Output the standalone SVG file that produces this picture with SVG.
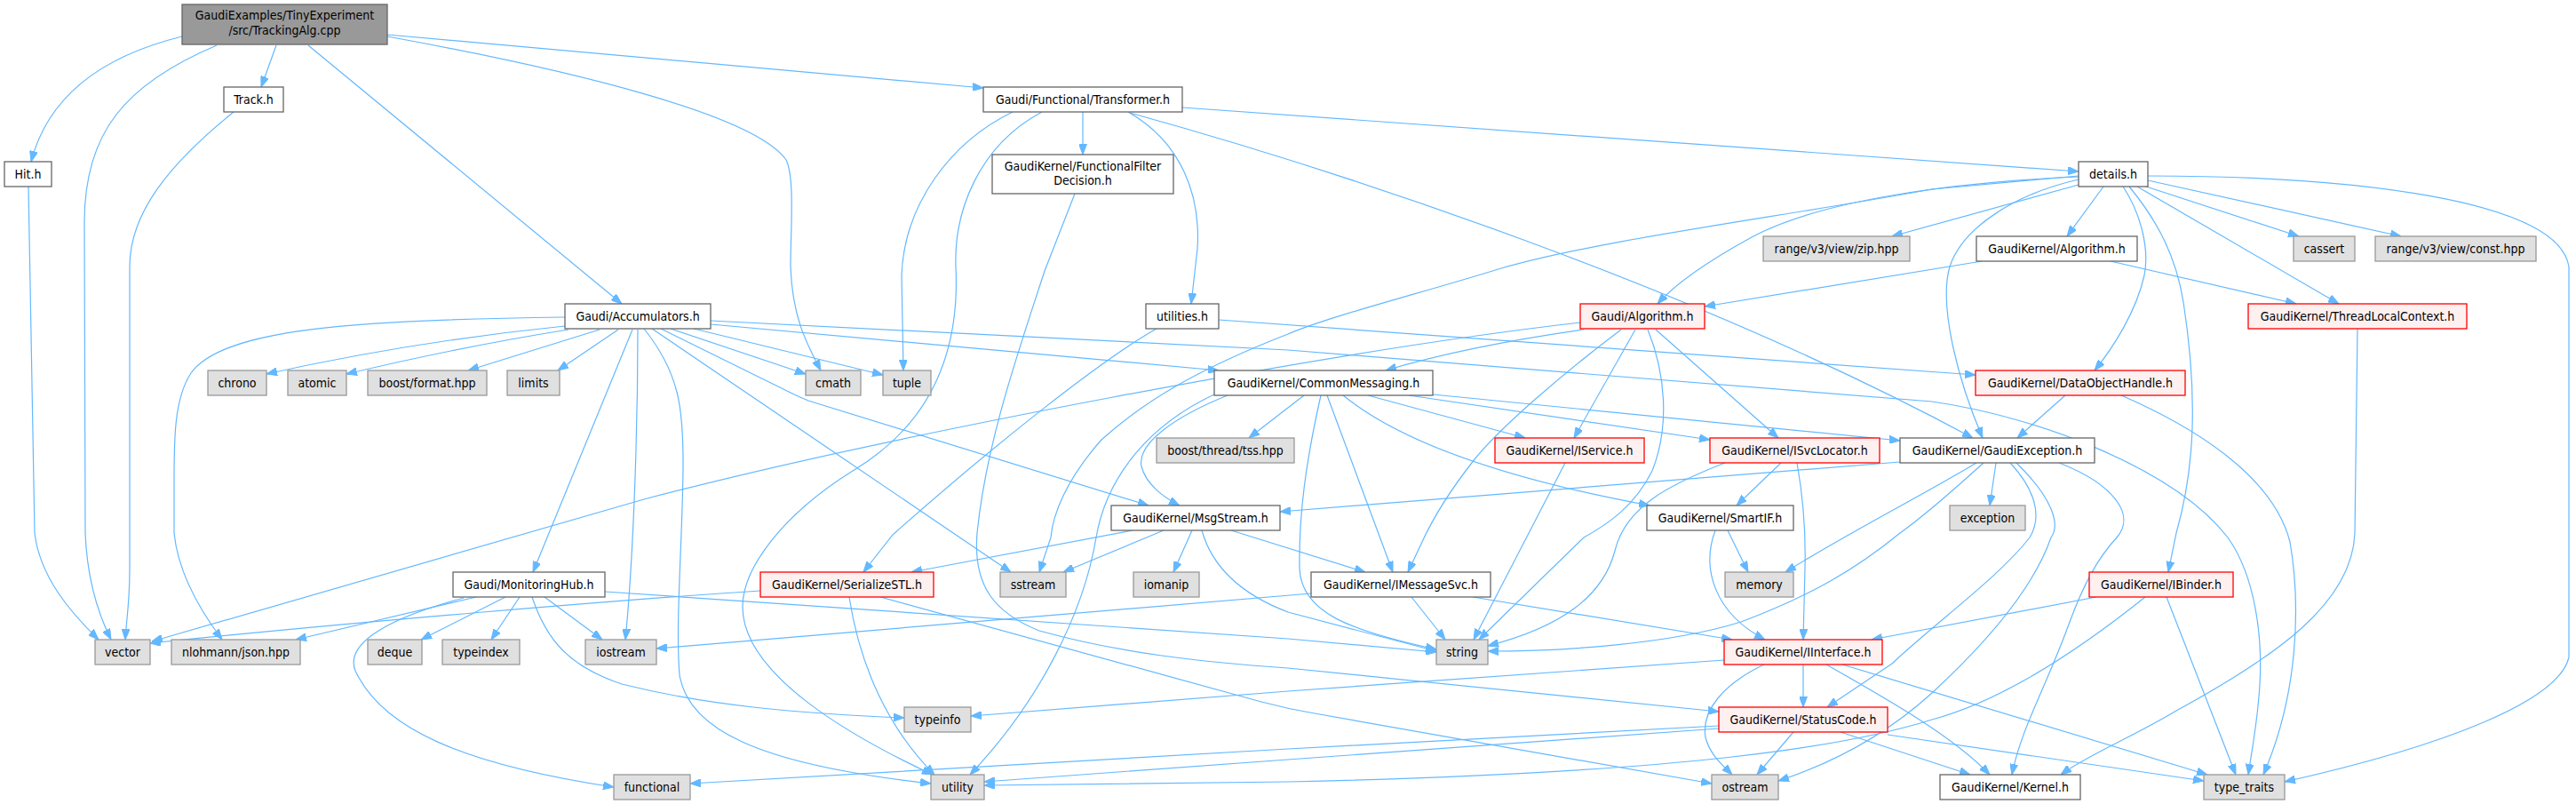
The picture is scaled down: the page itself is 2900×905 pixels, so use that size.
<svg xmlns="http://www.w3.org/2000/svg" width="2900" height="905" viewBox="0 0 2900 905">
<style>
text{font-family:'DejaVu Sans Condensed','DejaVu Sans',sans-serif;font-stretch:condensed;font-size:14px;text-anchor:middle;fill:#000}
.w{fill:#fff;stroke:#666;stroke-width:1.3}
.g{fill:#e0e0e0;stroke:#999;stroke-width:1.3}
.r{fill:#fff0f0;stroke:#f00;stroke-width:1.3}
.root{fill:#999;stroke:#666;stroke-width:1.3}
.e path{fill:none;stroke:#63b8ff;stroke-width:1.2;marker-end:url(#a)}
</style>
<defs>
<marker id="a" markerWidth="12" markerHeight="9" refX="12" refY="4.5" orient="auto" markerUnits="userSpaceOnUse"><path d="M0,0 L12,4.5 L0,9 z" fill="#63b8ff" stroke="#63b8ff" stroke-width="1"/></marker>
</defs>
<rect width="2900" height="905" fill="#fff"/>
<g id="edges" class="e">
<path d="M205,41 C120,62 55,105 35,182"/>
<path d="M311,51 L294,98"/>
<path d="M244,51 C140,95 95,150 95,250 L96,600 C98,650 110,690 125,720"/>
<path d="M32,210 L39,600 C45,650 80,690 111,720"/>
<path d="M263,126 C190,185 146,240 146,300 L146,640 C146,680 142,700 141,720"/>
<path d="M347,51 L700,342"/>
<path d="M436,39 L1107,99"/>
<path d="M436,41 C650,80 850,130 885,180 C895,200 890,260 890,300 C892,360 910,390 924,417"/>
<path d="M1219,126 L1219,174"/>
<path d="M1331,121 L2340,193"/>
<path d="M1140,126 C1070,160 1018,230 1015,310 L1017,417"/>
<path d="M1173,126 C1100,165 1074,240 1076,300 C1080,380 1060,470 960,530 C880,580 836,640 836,683 C836,760 960,830 1050,872"/>
<path d="M1270,126 C1330,160 1352,220 1348,280 L1341,342"/>
<path d="M1272,127 C1500,190 1900,320 2221,493"/>
<path d="M1210,218 L1176,305 C1145,400 1110,500 1100,600 C1095,660 1120,690 1170,710 C1260,735 1350,745 1450,752 L1935,801"/>
<path d="M2340,199 C2200,205 2050,225 1972,267 C1930,290 1890,315 1866,342"/>
<path d="M2340,198 L2175,213 C2000,245 1800,270 1690,302 C1600,330 1500,355 1450,376 C1350,415 1290,450 1240,495 C1200,540 1185,580 1183,605 L1170,644"/>
<path d="M2340,202 C2270,218 2210,255 2195,300 C2182,345 2205,430 2232,493"/>
<path d="M2340,208 L2130,266"/>
<path d="M2368,210 L2327,266"/>
<path d="M2390,210 C2410,240 2420,280 2414,310 C2405,350 2380,390 2358,417"/>
<path d="M2397,210 C2430,250 2450,290 2458,340 C2475,450 2470,530 2450,600 L2441,644"/>
<path d="M2406,210 L2633,342"/>
<path d="M2413,209 L2588,266"/>
<path d="M2418,203 L2703,266"/>
<path d="M2418,198 C2650,198 2880,225 2892,300 L2892,740 C2880,790 2750,840 2572,880"/>
<path d="M2231,294 L1919,345"/>
<path d="M2376,294 L2585,342"/>
<path d="M1302,370 C1240,405 1120,500 1005,602 L972,644"/>
<path d="M1372,360 L2224,422"/>
<path d="M636,367 Q460,385 300,421"/>
<path d="M640,371 Q520,390 390,421"/>
<path d="M675,371 L527,417"/>
<path d="M696,371 L628,417"/>
<path d="M636,357 C400,360 250,370 215,420 C195,450 196,500 196,550 L196,600 C200,640 220,680 250,720"/>
<path d="M712,371 L600,644"/>
<path d="M718,371 C718,500 712,640 704,720"/>
<path d="M725,370 C765,420 769,460 769,520 C769,600 760,700 765,760 C775,820 850,860 1048,882"/>
<path d="M734,370 L1138,644"/>
<path d="M744,370 L890,442 Q900,447 910,451 L1293,569"/>
<path d="M755,370 L907,421"/>
<path d="M781,370 L994,422"/>
<path d="M800,365 L1372,417"/>
<path d="M800,361 L1450,394 L2175,452 C2300,470 2450,530 2508,605 C2540,650 2547,720 2544,770 C2542,810 2535,845 2531,872"/>
<path d="M1779,363 C1500,395 1000,490 725,562 L171,722"/>
<path d="M1783,371 Q1650,390 1560,417"/>
<path d="M1825,371 C1760,420 1690,480 1660,517 C1630,555 1610,590 1600,612 L1585,644"/>
<path d="M1841,371 L1772,493"/>
<path d="M1855,371 C1875,420 1880,480 1860,530 C1840,570 1810,590 1783,605 L1665,720"/>
<path d="M1864,371 L2002,493"/>
<path d="M1382,445 C1320,470 1280,500 1285,525 C1290,545 1310,560 1328,569"/>
<path d="M1367,444 C1290,480 1245,540 1234,605 C1220,690 1170,790 1092,872"/>
<path d="M1487,445 C1470,520 1462,580 1463,640 C1465,690 1520,710 1617,731"/>
<path d="M1494,445 L1568,644"/>
<path d="M1512,445 C1580,500 1700,540 1857,569"/>
<path d="M1540,445 L1717,493"/>
<path d="M1586,445 L1925,495"/>
<path d="M1613,444 L2139,496"/>
<path d="M1468,445 L1406,493"/>
<path d="M1275,597 L1026,644"/>
<path d="M1310,597 L1197,644"/>
<path d="M1342,597 L1321,644"/>
<path d="M1353,597 C1365,640 1400,670 1450,689 L1617,733"/>
<path d="M1386,597 L1537,644"/>
<path d="M2139,520 L1441,576"/>
<path d="M2225,521 C2160,560 2080,600 2010,644"/>
<path d="M2233,521 C2190,560 2160,585 2139,600 C2090,640 2040,670 1960,700 C1880,725 1760,733 1675,733"/>
<path d="M2247,521 L2240,569"/>
<path d="M2263,521 C2290,550 2300,580 2285,605 C2250,650 2180,700 2130,747 L2057,796"/>
<path d="M2270,521 C2310,560 2320,590 2309,605 C2290,660 2240,720 2175,780 C2120,830 2060,860 2002,879"/>
<path d="M2318,521 C2380,545 2405,580 2383,605 C2360,630 2345,660 2330,700 C2305,770 2275,820 2265,872"/>
<path d="M2325,445 L2271,493"/>
<path d="M2388,445 C2480,485 2560,540 2578,610 C2590,680 2588,780 2548,872"/>
<path d="M2654,370 L2651,600 C2648,680 2560,740 2450,800 C2400,830 2350,850 2320,872"/>
<path d="M2360,672 L2107,720"/>
<path d="M2439,672 L2517,872"/>
<path d="M2415,672 C2330,740 2250,790 2175,810 C2080,840 1900,870 1450,880 L1108,884"/>
<path d="M1589,672 L1627,720"/>
<path d="M1658,672 L1950,720"/>
<path d="M1476,668 L739,730"/>
<path d="M1762,521 L1659,720"/>
<path d="M1942,521 C1880,545 1830,570 1818,620 C1805,670 1760,705 1675,727"/>
<path d="M2005,521 L1955,569"/>
<path d="M2023,521 C2030,560 2033,600 2032,640 L2030,720"/>
<path d="M1931,597 C1915,640 1930,690 1987,720"/>
<path d="M1945,597 L1968,644"/>
<path d="M1941,743 L1450,778 L1093,806"/>
<path d="M2030,748 L2030,796"/>
<path d="M1986,748 C1940,770 1915,800 1920,830 C1925,850 1940,862 1950,872"/>
<path d="M2056,748 C2130,790 2200,830 2240,872"/>
<path d="M2074,748 L2485,872"/>
<path d="M2019,824 L1978,872"/>
<path d="M2072,824 L2218,872"/>
<path d="M2125,827 L2481,879"/>
<path d="M1935,817 L1450,843 L777,882"/>
<path d="M1935,820 L1450,855 L1108,880"/>
<path d="M856,665 C700,675 400,700 169,724"/>
<path d="M956,672 C968,750 1000,820 1052,872"/>
<path d="M991,672 L1420,790 Q1450,798 1480,803 L1927,882"/>
<path d="M536,672 L333,720"/>
<path d="M522,673 C420,700 390,730 400,755 C430,820 520,860 691,886"/>
<path d="M569,672 L474,720"/>
<path d="M585,672 L553,720"/>
<path d="M613,672 L678,720"/>
<path d="M599,672 C615,720 640,750 700,770 C800,795 900,803 1018,808"/>
<path d="M681,666 L1450,719 L1617,734"/>
</g>
<g id="root"><rect class="root" x="205" y="5" width="231" height="45"/><text x="320.5" y="22">GaudiExamples/TinyExperiment</text><text x="320.5" y="39">/src/TrackingAlg.cpp</text></g>
<g id="track"><rect class="w" x="252" y="98" width="67" height="28"/><text x="285.5" y="117">Track.h</text></g>
<g id="hit"><rect class="w" x="5" y="182" width="53" height="28"/><text x="31.5" y="201">Hit.h</text></g>
<g id="transformer"><rect class="w" x="1107" y="98" width="224" height="28"/><text x="1219" y="117">Gaudi/Functional/Transformer.h</text></g>
<g id="ffd"><rect class="w" x="1117" y="174" width="204" height="44"/><text x="1219" y="192">GaudiKernel/FunctionalFilter</text><text x="1219" y="208">Decision.h</text></g>
<g id="zip"><rect class="g" x="1985" y="266" width="165" height="28"/><text x="2067.5" y="285">range/v3/view/zip.hpp</text></g>
<g id="details"><rect class="w" x="2340" y="182" width="78" height="28"/><text x="2379" y="201">details.h</text></g>
<g id="kalg"><rect class="w" x="2225" y="266" width="181" height="28"/><text x="2315.5" y="285">GaudiKernel/Algorithm.h</text></g>
<g id="cassert"><rect class="g" x="2582" y="266" width="69" height="28"/><text x="2616.5" y="285">cassert</text></g>
<g id="const"><rect class="g" x="2674" y="266" width="181" height="28"/><text x="2764.5" y="285">range/v3/view/const.hpp</text></g>
<g id="accum"><rect class="w" x="636" y="342" width="164" height="28"/><text x="718" y="361">Gaudi/Accumulators.h</text></g>
<g id="chrono"><rect class="g" x="234" y="417" width="66" height="28"/><text x="267" y="436">chrono</text></g>
<g id="atomic"><rect class="g" x="324" y="417" width="66" height="28"/><text x="357" y="436">atomic</text></g>
<g id="bformat"><rect class="g" x="414" y="417" width="134" height="28"/><text x="481" y="436">boost/format.hpp</text></g>
<g id="limits"><rect class="g" x="571" y="417" width="59" height="28"/><text x="600.5" y="436">limits</text></g>
<g id="cmath"><rect class="g" x="907" y="417" width="62" height="28"/><text x="938" y="436">cmath</text></g>
<g id="tuple"><rect class="g" x="994" y="417" width="54" height="28"/><text x="1021" y="436">tuple</text></g>
<g id="utilities"><rect class="w" x="1290" y="342" width="82" height="28"/><text x="1331" y="361">utilities.h</text></g>
<g id="cmsg"><rect class="w" x="1367" y="417" width="246" height="28"/><text x="1490" y="436">GaudiKernel/CommonMessaging.h</text></g>
<g id="tss"><rect class="g" x="1302" y="493" width="155" height="28"/><text x="1379.5" y="512">boost/thread/tss.hpp</text></g>
<g id="msgstream"><rect class="w" x="1251" y="569" width="190" height="28"/><text x="1346" y="588">GaudiKernel/MsgStream.h</text></g>
<g id="galg"><rect class="r" x="1779" y="342" width="140" height="28"/><text x="1849" y="361">Gaudi/Algorithm.h</text></g>
<g id="iservice"><rect class="r" x="1683" y="493" width="168" height="28"/><text x="1767" y="512">GaudiKernel/IService.h</text></g>
<g id="isvcloc"><rect class="r" x="1925" y="493" width="191" height="28"/><text x="2020.5" y="512">GaudiKernel/ISvcLocator.h</text></g>
<g id="gexc"><rect class="w" x="2139" y="493" width="219" height="28"/><text x="2248.5" y="512">GaudiKernel/GaudiException.h</text></g>
<g id="smartif"><rect class="w" x="1854" y="569" width="165" height="28"/><text x="1936.5" y="588">GaudiKernel/SmartIF.h</text></g>
<g id="tlc"><rect class="r" x="2531" y="342" width="246" height="28"/><text x="2654" y="361">GaudiKernel/ThreadLocalContext.h</text></g>
<g id="doh"><rect class="r" x="2224" y="417" width="236" height="28"/><text x="2342" y="436">GaudiKernel/DataObjectHandle.h</text></g>
<g id="exception"><rect class="g" x="2195" y="569" width="85" height="28"/><text x="2237.5" y="588">exception</text></g>
<g id="monhub"><rect class="w" x="510" y="644" width="171" height="28"/><text x="595.5" y="663">Gaudi/MonitoringHub.h</text></g>
<g id="vector"><rect class="g" x="107" y="720" width="62" height="28"/><text x="138" y="739">vector</text></g>
<g id="json"><rect class="g" x="193" y="720" width="145" height="28"/><text x="265.5" y="739">nlohmann/json.hpp</text></g>
<g id="deque"><rect class="g" x="414" y="720" width="61" height="28"/><text x="444.5" y="739">deque</text></g>
<g id="typeindex"><rect class="g" x="498" y="720" width="87" height="28"/><text x="541.5" y="739">typeindex</text></g>
<g id="iostream"><rect class="g" x="659" y="720" width="80" height="28"/><text x="699" y="739">iostream</text></g>
<g id="functional"><rect class="g" x="691" y="872" width="86" height="28"/><text x="734" y="891">functional</text></g>
<g id="sstl"><rect class="r" x="856" y="644" width="195" height="28"/><text x="953.5" y="663">GaudiKernel/SerializeSTL.h</text></g>
<g id="sstream"><rect class="g" x="1126" y="644" width="74" height="28"/><text x="1163" y="663">sstream</text></g>
<g id="iomanip"><rect class="g" x="1276" y="644" width="74" height="28"/><text x="1313" y="663">iomanip</text></g>
<g id="typeinfo"><rect class="g" x="1018" y="796" width="75" height="28"/><text x="1055.5" y="815">typeinfo</text></g>
<g id="utility"><rect class="g" x="1048" y="872" width="60" height="28"/><text x="1078" y="891">utility</text></g>
<g id="imsgsvc"><rect class="w" x="1476" y="644" width="202" height="28"/><text x="1577" y="663">GaudiKernel/IMessageSvc.h</text></g>
<g id="string"><rect class="g" x="1617" y="720" width="58" height="28"/><text x="1646" y="739">string</text></g>
<g id="memory"><rect class="g" x="1942" y="644" width="77" height="28"/><text x="1980.5" y="663">memory</text></g>
<g id="iinterface"><rect class="r" x="1941" y="720" width="178" height="28"/><text x="2030" y="739">GaudiKernel/IInterface.h</text></g>
<g id="statuscode"><rect class="r" x="1935" y="796" width="190" height="28"/><text x="2030" y="815">GaudiKernel/StatusCode.h</text></g>
<g id="ostream"><rect class="g" x="1927" y="872" width="75" height="28"/><text x="1964.5" y="891">ostream</text></g>
<g id="ibinder"><rect class="r" x="2352" y="644" width="162" height="28"/><text x="2433" y="663">GaudiKernel/IBinder.h</text></g>
<g id="kernel"><rect class="w" x="2184" y="872" width="158" height="28"/><text x="2263" y="891">GaudiKernel/Kernel.h</text></g>
<g id="typetraits"><rect class="g" x="2481" y="872" width="91" height="28"/><text x="2526.5" y="891">type_traits</text></g>
</svg>
